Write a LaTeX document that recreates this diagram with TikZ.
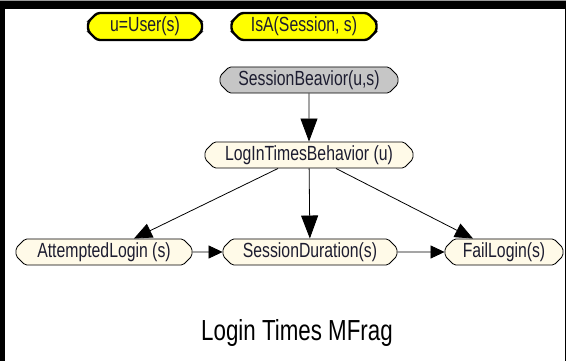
\documentclass[tikz,border=0pt]{standalone}
\usepackage{fontspec}
\setmainfont{Liberation Sans}[FakeStretch=0.77]
\usetikzlibrary{shapes.misc,arrows.meta,calc}
\definecolor{nodeyellow}{HTML}{FFFF00}
\definecolor{nodegray}{HTML}{C6C6C6}
\definecolor{nodecream}{HTML}{FFFAE8}
\definecolor{textink}{HTML}{1C1C30}
\definecolor{rimgray}{HTML}{9A9A9A}
\begin{document}
\begin{tikzpicture}[x=1pt,y=-1pt,
  mfnode/.style={chamfered rectangle, chamfered rectangle xsep=5.5pt,
    rounded corners=2pt,
    draw=black, line width=0.8pt, inner sep=0pt, text=textink,
    font=\fontsize{20.5}{22}\selectfont, minimum height=25.5pt},
  resident/.style={mfnode, fill=nodecream},
  inputnode/.style={mfnode, fill=nodegray},
  context/.style={mfnode, fill=nodeyellow, line width=2.4pt,
    rounded corners=3pt, minimum height=27pt},
  arr/.style={line width=0.8pt, sharp corners},
  vhead/.style={arr, -{Triangle[length=23pt,width=17pt]}},
  dhead/.style={arr, -{Triangle[length=18pt,width=15pt]}},
  hhead/.style={arr, -{Triangle[length=14pt,width=13pt]}}
]
\useasboundingbox (0,0) rectangle (566,361);

% window frame
\fill[rimgray] (0,0) rectangle (566,1.2);
\fill[black] (0,1.2) rectangle (566,9);
\fill[black] (0,1.2) rectangle (4.5,361);
\draw[black, line width=1pt] (565,9) -- (565,361);

% context nodes
\node[context, minimum width=114pt] (user) at (145,26.5) {u=User(s)};
\node[context, minimum width=145pt] (isa) at (304,26.5) {IsA(Session, s)};

% input node
\node[inputnode, minimum width=178pt] (sb) at (309,80) {SessionBeavior(u,s)};

% resident nodes
\node[resident, minimum width=208pt] (lt) at (309,155) {LogInTimesBehavior (u)};
\node[resident, minimum width=176pt] (al) at (104,252) {AttemptedLogin (s)};
\node[resident, minimum width=174pt] (sd) at (310,252) {SessionDuration(s)};
\node[resident, minimum width=118pt] (fl) at (504,252) {FailLogin(s)};

% edges
\draw[vhead] (sb) -- (lt);
\draw[vhead] (lt) -- (sd);
\draw[dhead] ([xshift=-31pt]lt.south) -- ([xshift=30pt]al.north);
\draw[dhead] ([xshift=27pt]lt.south) -- ([xshift=-31pt]fl.north);
\draw[hhead] (al) -- (sd);
\draw[hhead] (sd) -- (fl);

% caption
\node[anchor=base, font=\fontsize{29}{32}\selectfont, text=black] (title)
  at (297,340) {Login Times MFrag};
\end{tikzpicture}
\end{document}
